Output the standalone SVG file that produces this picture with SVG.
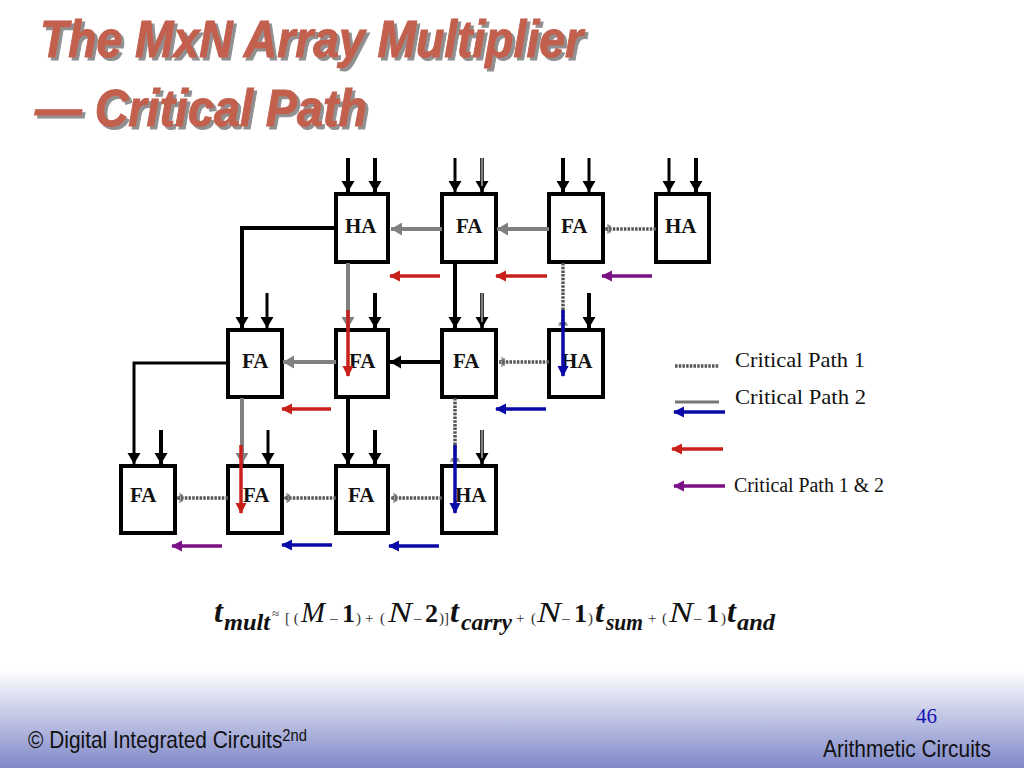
<svg xmlns="http://www.w3.org/2000/svg" width="1024" height="768" viewBox="0 0 1024 768">
<style>
.box{fill:#fff;stroke:#000;stroke-width:4}
.lbl{font:bold 21px "Liberation Serif",serif;fill:#111}
.t{font:bold 52px "Liberation Sans",Arial,sans-serif;font-style:italic;fill:#c2604e;stroke:#c2604e;stroke-width:1}
.leg{font:21px "Liberation Serif",serif;fill:#111}
.k{fill:none;stroke:#000;stroke-width:4}
.kt{fill:none;stroke:#000;stroke-width:3}
.g{fill:none;stroke:#808080;stroke-width:4}
.dot{fill:none;stroke:#555;stroke-width:3.5;stroke-dasharray:2.5 1.2}
.dbl{fill:none;stroke:#000;stroke-width:3.6}
.dbi{fill:none;stroke:#fff;stroke-width:1}
.r{fill:none;stroke:#c8201a;stroke-width:3.5}
.b{fill:none;stroke:#0a0aa8;stroke-width:3.5}
.p{fill:none;stroke:#7a1285;stroke-width:3.5}
.ei{font:italic 30px "Liberation Serif",serif;fill:#111}
.eb{font:bold 26px "Liberation Serif",serif;fill:#111}
.et{font:italic bold 32px "Liberation Serif",serif;fill:#111}
.es{font:italic bold 23px "Liberation Serif",serif;fill:#111}
.eo{font:15px "Liberation Serif",serif;fill:#333}
.f{font:24px "Liberation Sans",Arial,sans-serif;fill:#111}
</style>
<defs>
<linearGradient id="bg" x1="0" y1="0" x2="0" y2="1"><stop offset="0" stop-color="#fff"/><stop offset="1" stop-color="#7f88c8"/></linearGradient>
<filter id="shadow" x="-5%" y="-10%" width="110%" height="125%"><feDropShadow dx="3" dy="3" stdDeviation="0.6" flood-color="#909090"/></filter>
<marker id="mk" markerUnits="userSpaceOnUse" markerWidth="14" markerHeight="14" refX="11" refY="7" orient="auto"><path d="M0 0.5L11 7L0 13.5Z" fill="#000"/></marker>
<marker id="mg" markerUnits="userSpaceOnUse" markerWidth="14" markerHeight="14" refX="11" refY="7" orient="auto"><path d="M0 0.5L11 7L0 13.5Z" fill="#808080"/></marker>
<marker id="md" markerUnits="userSpaceOnUse" markerWidth="8" markerHeight="10" refX="7" refY="5" orient="auto"><path d="M4 0V10M2 1V9M7 5L2 2V8Z" fill="none" stroke="#666" stroke-width="1"/></marker>
<marker id="mr" markerUnits="userSpaceOnUse" markerWidth="12" markerHeight="12" refX="10" refY="6" orient="auto"><path d="M0 0.5L11 6L0 11.5Z" fill="#c8201a"/></marker>
<marker id="mb" markerUnits="userSpaceOnUse" markerWidth="12" markerHeight="12" refX="10" refY="6" orient="auto"><path d="M0 0.5L11 6L0 11.5Z" fill="#0a0aa8"/></marker>
<marker id="mp" markerUnits="userSpaceOnUse" markerWidth="12" markerHeight="12" refX="10" refY="6" orient="auto"><path d="M0 0.5L11 6L0 11.5Z" fill="#7a1285"/></marker>
</defs>
<rect id="background" width="1024" height="768" fill="#fff"/>
<rect id="footer-band" y="670" width="1024" height="98" fill="url(#bg)"/>
<g id="title" filter="url(#shadow)">
<text class="t" x="40" y="57" textLength="543" lengthAdjust="spacingAndGlyphs">The MxN Array Multiplier</text>
<text class="t" x="35" y="126" textLength="332" lengthAdjust="spacingAndGlyphs">— Critical Path</text>
</g>
<g id="node-r1c1"><rect class="box" x="336" y="194" width="52" height="68"/><text class="lbl" x="345" y="233">HA</text></g>
<g id="node-r1c2"><rect class="box" x="442" y="194" width="54" height="68"/><text class="lbl" x="456" y="233">FA</text></g>
<g id="node-r1c3"><rect class="box" x="549" y="194" width="54" height="68"/><text class="lbl" x="561" y="233">FA</text></g>
<g id="node-r1c4"><rect class="box" x="656" y="194" width="53" height="68"/><text class="lbl" x="665" y="233">HA</text></g>
<g id="node-r2c1"><rect class="box" x="228" y="330" width="54" height="67"/><text class="lbl" x="242" y="368">FA</text></g>
<g id="node-r2c2"><rect class="box" x="336" y="330" width="52" height="67"/><text class="lbl" x="349" y="368">FA</text></g>
<g id="node-r2c3"><rect class="box" x="442" y="330" width="54" height="67"/><text class="lbl" x="453" y="368">FA</text></g>
<g id="node-r2c4"><rect class="box" x="549" y="330" width="54" height="67"/><text class="lbl" x="561" y="368">HA</text></g>
<g id="node-r3c1"><rect class="box" x="121" y="466" width="54" height="67"/><text class="lbl" x="130" y="502">FA</text></g>
<g id="node-r3c2"><rect class="box" x="228" y="466" width="54" height="67"/><text class="lbl" x="243" y="502">FA</text></g>
<g id="node-r3c3"><rect class="box" x="336" y="466" width="52" height="67"/><text class="lbl" x="348" y="502">FA</text></g>
<g id="node-r3c4"><rect class="box" x="442" y="466" width="54" height="67"/><text class="lbl" x="455" y="502">HA</text></g>
<g id="connectors">
<path class="k" d="M348 158V192" marker-end="url(#mk)"/>
<path class="k" d="M375 158V192" marker-end="url(#mk)"/>
<path class="kt" d="M455 158V192" marker-end="url(#mk)"/>
<path class="dbl" d="M482 158V192" marker-end="url(#mk)"/><path class="dbi" d="M482 158V186"/>
<path class="k" d="M563 158V192" marker-end="url(#mk)"/>
<path class="kt" d="M589 158V192" marker-end="url(#mk)"/>
<path class="kt" d="M669 158V192" marker-end="url(#mk)"/>
<path class="k" d="M696 158V192" marker-end="url(#mk)"/>
<path class="k" stroke-linejoin="miter" d="M336 228H242V328" marker-end="url(#mk)"/>
<path class="kt" d="M267 293V328" marker-end="url(#mk)"/>
<path class="g" d="M348 263V328" marker-end="url(#mg)"/>
<path class="k" d="M375 293V328" marker-end="url(#mk)"/>
<path class="k" d="M455 263V328" marker-end="url(#mk)"/>
<path class="dbl" d="M482 293V328" marker-end="url(#mk)"/><path class="dbi" d="M482 293V322"/>
<path class="dot" d="M563 263V328" marker-end="url(#md)"/>
<path class="k" d="M589 293V328" marker-end="url(#mk)"/>
<path class="g" d="M442 229H391" marker-end="url(#mg)"/>
<path class="g" d="M549 229H497" marker-end="url(#mg)"/>
<path class="dot" d="M656 229H605" marker-end="url(#md)"/>
<path class="g" d="M336 362H283" marker-end="url(#mg)"/>
<path class="k" d="M442 362H390" marker-end="url(#mk)"/>
<path class="dot" d="M549 362H499" marker-end="url(#md)"/>
<path class="kt" d="M228 363H134V464" marker-end="url(#mk)"/>
<path class="k" d="M161 430V464" marker-end="url(#mk)"/>
<path class="g" stroke-width="3" d="M242 398V464" marker-end="url(#mg)"/>
<path class="kt" d="M268 430V464" marker-end="url(#mk)"/>
<path class="k" d="M348 398V464" marker-end="url(#mk)"/>
<path class="k" d="M375 430V464" marker-end="url(#mk)"/>
<path class="dot" d="M455 398V464" marker-end="url(#md)"/>
<path class="dbl" d="M482 430V464" marker-end="url(#mk)"/><path class="dbi" d="M482 430V458"/>
<path class="dot" d="M228 498H177" marker-end="url(#md)"/>
<path class="dot" d="M336 498H284" marker-end="url(#md)"/>
<path class="dot" d="M442 498H391" marker-end="url(#md)"/>
<path class="r" d="M348 310V376" marker-end="url(#mr)"/>
<path class="r" d="M241 445V513" marker-end="url(#mr)"/>
<path class="b" d="M563 310V376" marker-end="url(#mb)"/>
<path class="b" d="M455 445V513" marker-end="url(#mb)"/>
<path class="r" d="M440 276H390" marker-end="url(#mr)"/>
<path class="r" d="M547 276H496" marker-end="url(#mr)"/>
<path class="p" d="M652 276H602" marker-end="url(#mp)"/>
<path class="r" d="M331 409H282" marker-end="url(#mr)"/>
<path class="b" d="M546 409H496" marker-end="url(#mb)"/>
<path class="p" d="M222 546H172" marker-end="url(#mp)"/>
<path class="b" d="M332 545H282" marker-end="url(#mb)"/>
<path class="b" d="M439 546H389" marker-end="url(#mb)"/>
<path class="dot" d="M675 366H719"/>
<path class="dot" d="M675 402H719" style="stroke:#777;stroke-dasharray:none;stroke-width:3"/>
<path class="b" d="M725 412H674" marker-end="url(#mb)"/>
<path class="r" d="M723 449H672" marker-end="url(#mr)"/>
<path class="p" d="M725 486H674" marker-end="url(#mp)"/>
</g>
<g id="legend">
<text class="leg" x="735" y="367" textLength="130" lengthAdjust="spacingAndGlyphs">Critical Path 1</text>
<text class="leg" x="735" y="404" textLength="131" lengthAdjust="spacingAndGlyphs">Critical Path 2</text>
<text class="leg" x="734" y="492" textLength="150" lengthAdjust="spacingAndGlyphs" style="font-size:20px">Critical Path 1 &amp; 2</text>
</g>
<g id="equation">
<text class="et" x="214" y="622">t</text><text class="es" x="224" y="630" textLength="46" lengthAdjust="spacingAndGlyphs">mult</text>
<text class="eo" x="272" y="618" style="font-size:13px">≈</text><text class="eo" x="285" y="623">[ (</text>
<text class="ei" x="301" y="622" textLength="24" lengthAdjust="spacingAndGlyphs">M</text><text class="eo" x="330" y="623">–</text><text class="eb" x="342" y="622">1</text><text class="eo" x="356" y="623">)</text><text class="eo" x="365" y="623">+</text><text class="eo" x="380" y="623">(</text>
<text class="ei" x="388" y="622" textLength="24" lengthAdjust="spacingAndGlyphs">N</text><text class="eo" x="414" y="623">–</text><text class="eb" x="425" y="622">2</text><text class="eo" x="439" y="623">)]</text>
<text class="et" x="450" y="622">t</text><text class="es" x="461" y="630" textLength="51" lengthAdjust="spacingAndGlyphs">carry</text>
<text class="eo" x="516" y="623">+</text><text class="eo" x="531" y="623">(</text>
<text class="ei" x="537" y="622" textLength="24" lengthAdjust="spacingAndGlyphs">N</text><text class="eo" x="562" y="623">–</text><text class="eb" x="574" y="622">1</text><text class="eo" x="588" y="623">)</text>
<text class="et" x="595" y="622">t</text><text class="es" x="606" y="630" textLength="37" lengthAdjust="spacingAndGlyphs">sum</text>
<text class="eo" x="648" y="623">+</text><text class="eo" x="662" y="623">(</text>
<text class="ei" x="669" y="622" textLength="24" lengthAdjust="spacingAndGlyphs">N</text><text class="eo" x="694" y="623">–</text><text class="eb" x="706" y="622">1</text><text class="eo" x="721" y="623">)</text>
<text class="et" x="727" y="622">t</text><text class="es" x="737" y="630" textLength="38" lengthAdjust="spacingAndGlyphs">and</text>
</g>
<g id="footer">
<text class="f" x="28" y="748" textLength="279" lengthAdjust="spacingAndGlyphs">© Digital Integrated Circuits<tspan dy="-7" style="font-size:17px">2nd</tspan></text>
<text x="916" y="723" style="font:21px 'Liberation Serif',serif;fill:#1414b4">46</text>
<text class="f" x="823" y="757" textLength="168" lengthAdjust="spacingAndGlyphs">Arithmetic Circuits</text>
</g>
</svg>
